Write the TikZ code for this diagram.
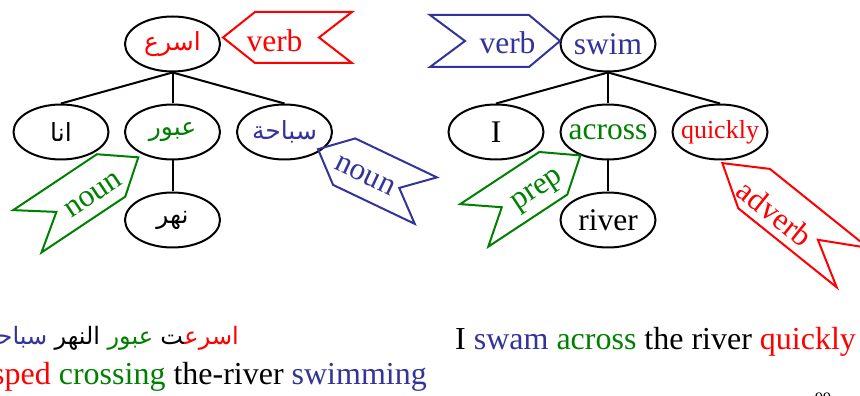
\documentclass[tikz,border=0pt]{standalone}
\usepackage{fontspec}
\setmainfont{Liberation Serif}
\newfontfamily\arabicfont[Script=Arabic]{DejaVu Sans}
\usetikzlibrary{shapes.geometric,calc}
\TeXXeTstate=1
\definecolor{wred}{RGB}{255,0,0}
\definecolor{wgreen}{RGB}{0,128,0}
\definecolor{wblue}{RGB}{51,51,153}
% centred text that does not widen its node
\newcommand\ctext[1]{\makebox[0pt]{#1}}
% a right-to-left Arabic word
\newcommand\arw[1]{{\arabicfont\beginR #1\endR}}
% tag outlines drawn on an empty, sized node: tip on one side, notch on the other
\newcommand\tagEast[4]{\draw[tagline,#1] (#2.north west) -- (#2.north east) -- ($(#2.east)!-#3!(#2.center)$) -- (#2.south east) -- (#2.south west) -- ($(#2.west)!#4!(#2.center)$) -- cycle;}
\newcommand\tagWest[4]{\draw[tagline,#1] (#2.north east) -- (#2.north west) -- ($(#2.west)!-#3!(#2.center)$) -- (#2.south west) -- (#2.south east) -- ($(#2.east)!#4!(#2.center)$) -- cycle;}
\begin{document}
\begin{tikzpicture}[x=1pt,y=1pt,
  treenode/.style={ellipse, draw, line width=2pt, minimum width=95pt, minimum height=55pt, inner sep=0pt, font=\fontsize{31.5}{36}\selectfont},
  arnode/.style={treenode, font=\arabicfont\fontsize{25}{30}\selectfont},
  branch/.style={line width=2pt},
  tagbody/.style={inner sep=0pt, outer sep=0pt},
  tagline/.style={line width=2pt, line join=miter},
  tagtext/.style={inner sep=0pt, font=\fontsize{31.5}{36}\selectfont},
  sentence/.style={inner sep=0pt, font=\fontsize{32}{38}\selectfont},
  arword/.style={inner sep=0pt, anchor=base east, font=\arabicfont\fontsize{24}{30}\selectfont}]
\useasboundingbox (0,0) rectangle (860,396);

% ---- Arabic tree ----
\node[arnode, text=wred] (r1) at (172.5,352) {\ctext{\arw{اسرع}}};
\node[arnode] (a1) at (61,264) {\ctext{\arw{انا}}};
\node[arnode, text=wgreen] (a2) at (172.5,264) {\ctext{\arw{عبور}}};
\node[arnode, text=wblue] (a3) at (284.5,264) {\ctext{\arw{سباحة}}};
\node[arnode] (b1) at (172.5,176) {\ctext{\arw{نهر}}};
\foreach \c in {a1,a2,a3} \draw[branch] (r1.south) -- (\c.north);
\draw[branch] (a2.south) -- (b1.north);

% ---- English tree ----
\node[treenode, text=wblue] (r2) at (608,352) {\ctext{swim}};
\node[treenode] (c1) at (496,264) {\ctext{I}};
\node[treenode, text=wgreen] (c2) at (608,264) {\ctext{across}};
\node[treenode, text=wred, font=\fontsize{26}{30}\selectfont] (c3) at (720,264) {\ctext{quickly}};
\node[treenode] (d1) at (608,176) {\ctext{river}};
\foreach \c in {c1,c2,c3} \draw[branch] (r2.south) -- (\c.north);
\draw[branch] (c2.south) -- (d1.north);

% ---- part-of-speech tags ----
\node[tagbody, minimum width=97pt, minimum height=51pt] (gvL) at (303.5,358.5) {};
\tagWest{wred}{gvL}{32pt}{33pt}
\node[tagtext, wred] (tvL) at (274.5,355.5) {verb};

\node[tagbody, minimum width=99pt, minimum height=52pt] (gvR) at (479.5,355) {};
\tagEast{wblue}{gvR}{31pt}{35pt}
\node[tagtext, wblue] (tvR) at (507.5,353) {verb};

\node[tagbody, rotate=33.7, minimum width=100.7pt, minimum height=51pt] (gnG) at (69.2,192.6) {};
\tagEast{wgreen}{gnG}{32.7pt}{35pt}
\node[tagtext, wgreen, rotate=33.7] (tnG) at (93.3,201) {noun};

\node[tagbody, rotate=-25.5, minimum width=90.5pt, minimum height=51.5pt] (gnB) at (385,214.85) {};
\tagWest{wblue}{gnB}{29pt}{29.5pt}
\node[tagtext, wblue, rotate=-25.5] (tnB) at (365,220) {noun};

\node[tagbody, rotate=33.4, minimum width=94.7pt, minimum height=51pt] (gp) at (513.75,196.65) {};
\tagEast{wgreen}{gp}{32.4pt}{33pt}
\node[tagtext, wgreen, rotate=33.4] (tp) at (538.3,204.3) {prep};

\node[tagbody, rotate=-38.75, minimum width=126.2pt, minimum height=50.5pt] (ga) at (803.3,167.9) {};
\tagWest{wred}{ga}{40.7pt}{44.4pt}
\node[tagtext, wred, rotate=-38.75] (ta) at (775,182.7) {adverb};

% ---- sentences ----
% Arabic sentence, set word by word from right to left
\node[arword, text=wred] (s1) at (239,51) {\arw{اسرع^^^^200d}};
\node[arword] (s2) at (s1.base west) {\arw{^^^^200dت}};
\node[arword, text=wgreen] (s3) at ([xshift=-7pt]s2.base west) {\arw{عبور}};
\node[arword] (s4) at ([xshift=-7pt]s3.base west) {\arw{النهر}};
\node[arword, text=wblue] (s5) at ([xshift=-7pt]s4.base west) {\arw{سباحة}};
\node[sentence, anchor=base east] (glossline) at (427,11) {{\color{wred}sped} {\color{wgreen}crossing} the-river {\color{wblue}swimming}};
\node[sentence, anchor=base west] (enline) at (455,46) {I {\color{wblue}swam} {\color{wgreen}across} the river {\color{wred}quickly}};
\node[anchor=base west, inner sep=0pt, font=\fontsize{16}{18}\selectfont] (pg) at (815,-8) {99};
\end{tikzpicture}
\end{document}
